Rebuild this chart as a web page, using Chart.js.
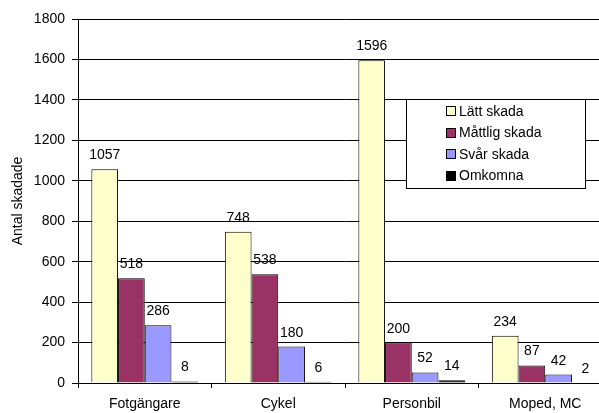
<!DOCTYPE html>
<html>
<head>
<meta charset="utf-8">
<script src="https://cdn.jsdelivr.net/npm/chart.js@4/dist/chart.umd.min.js"></script>
<style>
  html, body { margin: 0; padding: 0; background: #fff; overflow: hidden; width: 599px; height: 413px; }
  canvas { display: block; }
</style>
</head>
<body>
<canvas id="c" width="612" height="413"></canvas>
<script>
// Skadade per trafikanttyp och skadegrad
const categories = ['Fotgängare', 'Cykel', 'Personbil', 'Moped, MC'];
const seriesNames = ['Lätt skada', 'Måttlig skada', 'Svår skada', 'Omkomna'];
const lattSkada    = [1057, 748, 1596, 234];
const mattligSkada = [518, 538, 200, 87];
const svarSkada    = [286, 180, 52, 42];
const omkomna      = [8, 6, 14, 2];
const yTicks = [0, 200, 400, 600, 800, 1000, 1200, 1400, 1600, 1800];

const colors = ['#FFFFCC', '#993366', '#9999FF', '#000000'];
const FONT = 'Liberation Sans, Arial, sans-serif';

const seriesValues = [lattSkada, mattligSkada, svarSkada, omkomna];
const datasets = seriesNames.map((name, i) => ({
  label: name,
  data: seriesValues[i],
  backgroundColor: colors[i],
  borderColor: '#000',
  borderWidth: 1,
  categoryPercentage: 0.8,
  barPercentage: 1.0
}));

// Value labels above each bar
const valueLabels = {
  id: 'valueLabels',
  afterDatasetsDraw(chart) {
    const ctx = chart.ctx;
    ctx.save();
    ctx.font = '14px ' + FONT;
    ctx.fillStyle = '#000';
    ctx.textAlign = 'center';
    ctx.textBaseline = 'alphabetic';
    chart.data.datasets.forEach((ds, di) => {
      chart.getDatasetMeta(di).data.forEach((el, i) => {
        ctx.fillText(String(ds.data[i]), el.x, el.y - 10);
      });
    });
    ctx.restore();
  }
};

// Boxed legend inside the plot area
const boxLegend = {
  id: 'boxLegend',
  afterDraw(chart, args, opts) {
    const ctx = chart.ctx;
    const {left, top, width, height, rowStart, rowGap, swatchX, swatch, textX} = opts;
    ctx.save();
    ctx.fillStyle = '#fff';
    ctx.fillRect(left, top, width, height);
    ctx.strokeStyle = '#000';
    ctx.lineWidth = 1;
    ctx.strokeRect(left + 0.5, top + 0.5, width, height);
    ctx.font = '14px ' + FONT;
    ctx.textAlign = 'left';
    ctx.textBaseline = 'middle';
    chart.data.datasets.forEach((ds, i) => {
      const cy = rowStart + i * rowGap;
      ctx.fillStyle = ds.backgroundColor;
      ctx.fillRect(swatchX, Math.round(cy - swatch / 2), swatch, swatch);
      ctx.strokeStyle = '#000';
      ctx.strokeRect(swatchX + 0.5, Math.round(cy - swatch / 2) + 0.5, swatch - 1, swatch - 1);
      ctx.fillStyle = '#000';
      ctx.fillText(ds.label, textX, cy + 1);
    });
    ctx.restore();
  }
};

new Chart(document.getElementById('c'), {
  type: 'bar',
  data: { labels: categories, datasets },
  options: {
    responsive: false,
    animation: false,
    devicePixelRatio: 1,
    layout: { padding: { top: 19, left: 0, right: 0, bottom: 0 } },
    plugins: {
      legend: { display: false },
      tooltip: { enabled: false },
      boxLegend: {
        left: 406, top: 99, width: 179, height: 89,
        rowStart: 111, rowGap: 21.5, swatchX: 446, swatch: 10, textX: 459
      }
    },
    scales: {
      x: {
        afterFit(s) { s.height = 30; },
        grid: {
          offset: true,
          drawOnChartArea: false,
          drawTicks: true,
          tickLength: 5,
          color: '#000'
        },
        border: { color: '#000', width: 1 },
        ticks: { color: '#000', font: { family: FONT, size: 14 }, padding: 8 }
      },
      y: {
        min: 0,
        max: 1800,
        afterFit(s) { s.width = 78; },
        afterBuildTicks(s) { s.ticks = yTicks.map(v => ({ value: v })); },
        grid: { color: '#000', tickLength: 6, drawTicks: true },
        border: { color: '#000', width: 1 },
        ticks: {
          color: '#000',
          font: { family: FONT, size: 14 },
          padding: 7,
          callback: (v) => String(v)
        },
        title: {
          display: true,
          text: 'Antal skadade',
          color: '#000',
          font: { family: FONT, size: 14 },
          padding: { top: 10, bottom: 0 }
        }
      }
    }
  },
  plugins: [valueLabels, boxLegend]
});
</script>
</body>
</html>
